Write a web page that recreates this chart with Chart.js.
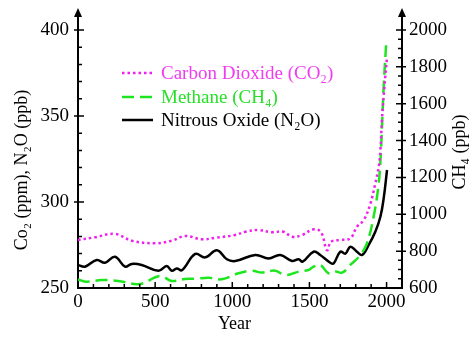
<!DOCTYPE html>
<html>
<head>
<meta charset="utf-8">
<script src="https://cdn.jsdelivr.net/npm/chart.js@4.4.1/dist/chart.umd.min.js"></script>
<style>
  body { margin: 0; background: #fff; }
</style>
</head>
<body>
<canvas id="chart" width="475" height="338"></canvas>
<script>
// values
var co2Years = [0, 110, 240, 348, 500, 608, 694, 803, 889, 1019, 1084, 1170, 1257, 1332, 1387, 1452, 1527, 1575, 1614, 1640, 1700, 1765, 1808, 1852, 1895, 1927, 1949, 1960, 1970, 1986, 2003];
var co2Vals = [277.9, 279.5, 281.4, 277.5, 276, 277.5, 280.2, 278.3, 279.2, 280.8, 282.7, 283.7, 282.4, 282.7, 279.8, 280.8, 284.1, 282.5, 272, 276.9, 277.9, 278.9, 285.6, 289.5, 299, 310.8, 320.5, 330, 347.7, 367, 384.5];

var ch4Years = [0, 50, 154, 260, 402, 532, 608, 694, 760, 846, 932, 1040, 1127, 1190, 1278, 1343, 1430, 1494, 1527, 1570, 1624, 1668, 1711, 1765, 1830, 1873, 1916, 1949, 1964, 1981, 1999];
var ch4Vals = [647, 634, 643, 638, 622, 665, 638, 649, 650, 656, 647, 680, 694, 684, 694, 670, 689, 698, 716, 725, 680, 690, 683, 725, 779, 843, 987, 1168, 1349, 1692, 1946];

var n2oYears = [0, 45, 121, 175, 240, 305, 348, 413, 521, 575, 608, 640, 673, 760, 824, 900, 965, 1019, 1149, 1235, 1311, 1387, 1430, 1456, 1527, 1570, 1635, 1657, 1700, 1733, 1765, 1808, 1841, 1884, 1927, 1960, 1981, 2003];
var n2oVals = [263.4, 262.4, 266.3, 264.7, 268.2, 262.4, 264, 263.4, 260, 262.8, 260, 261.4, 260.3, 269.8, 267.8, 272, 266.7, 265.7, 269.2, 267.2, 269.2, 265.7, 266.7, 265.3, 271.1, 269.2, 264.7, 264.3, 271.1, 270, 274, 271.1, 269.2, 275, 282.7, 291.4, 302, 318.6];

var seriesNames = ['Carbon Dioxide (CO\u2082)', 'Methane (CH\u2084)', 'Nitrous Oxide (N\u2082O)'];
var xLabels = [0, 500, 1000, 1500, 2000];
var leftLabels = [250, 300, 350, 400];
var rightLabels = [600, 800, 1000, 1200, 1400, 1600, 1800, 2000];
var xTitle = 'Year';
var leftTitle = 'Co\u2082 (ppm), N\u2082O (ppb)';
var rightTitle = 'CH\u2084 (ppb)';

var SERIF = '"Liberation Serif", "Times New Roman", serif';

function pts(xs, ys) {
  return xs.map(function(x, i) { return {x: x, y: ys[i]}; });
}

function plain(v) { return String(v); }

// tick marks, arrows, axis titles and the legend
var extras = {
  id: 'extras',
  afterDraw: function(chart) {
    var ctx = chart.ctx;
    var a = chart.chartArea;
    var sx = chart.scales.x, sl = chart.scales.y, sr = chart.scales.y1;
    ctx.save();
    ctx.strokeStyle = '#000';
    ctx.fillStyle = '#000';
    ctx.lineWidth = 1.5;
    ctx.beginPath();
    // x ticks every 100
    for (var v = 100; v <= 2000; v += 100) {
      var px = sx.getPixelForValue(v);
      var big = v % 500 == 0;
      ctx.moveTo(px, a.bottom);
      ctx.lineTo(px, a.bottom - (big ? 6 : 4));
    }
    // left ticks every 10
    for (var v = 260; v <= 400; v += 10) {
      var py = sl.getPixelForValue(v);
      var big = v % 50 == 0;
      ctx.moveTo(a.left - (big ? 4 : 0), py);
      ctx.lineTo(a.left + (big ? 6 : 4), py);
    }
    // right ticks every 50
    for (var v = 650; v <= 2000; v += 50) {
      var py = sr.getPixelForValue(v);
      var big = v % 200 == 0;
      ctx.moveTo(a.right + (big ? 4 : 0), py);
      ctx.lineTo(a.right - (big ? 6 : 4), py);
    }
    ctx.stroke();

    // arrows on both vertical axes
    [a.left, a.right].forEach(function(xx) {
      ctx.lineWidth = 2;
      ctx.beginPath();
      ctx.moveTo(xx, a.top);
      ctx.lineTo(xx, a.top - 16);
      ctx.stroke();
      ctx.beginPath();
      ctx.moveTo(xx, a.top - 22);
      ctx.lineTo(xx - 4, a.top - 13);
      ctx.lineTo(xx + 4, a.top - 13);
      ctx.closePath();
      ctx.fill();
    });

    // axis titles
    ctx.font = '18px ' + SERIF;
    ctx.textAlign = 'center';
    ctx.textBaseline = 'middle';
    ctx.fillText(xTitle, (a.left + 391) / 2, 324);
    ctx.save();
    ctx.translate(22, 170);
    ctx.rotate(-Math.PI / 2);
    ctx.fillText(leftTitle, 0, 0);
    ctx.restore();
    ctx.save();
    ctx.translate(460, 152);
    ctx.rotate(-Math.PI / 2);
    ctx.fillText(rightTitle, 0, 0);
    ctx.restore();

    // legend inside the plot
    ctx.font = '19px ' + SERIF;
    ctx.textAlign = 'left';
    var rows = [73, 97, 120];
    chart.data.datasets.forEach(function(ds, i) {
      ctx.strokeStyle = ds.borderColor;
      ctx.lineWidth = ds.borderWidth;
      ctx.setLineDash(ds.borderDash || []);
      ctx.beginPath();
      ctx.moveTo(122, rows[i]);
      ctx.lineTo(153, rows[i]);
      ctx.stroke();
      ctx.setLineDash([]);
      ctx.fillStyle = ds.textColor;
      ctx.fillText(ds.label, 161, rows[i] + 1);
    });
    ctx.restore();
  }
};

var tickFont = { family: SERIF, size: 19 };

var chart = new Chart('chart', {
  type: 'line',
  data: {
    datasets: [
      {
        label: seriesNames[0],
        data: pts(co2Years, co2Vals),
        yAxisID: 'y',
        borderColor: '#f01ef0',
        textColor: '#f03cf0',
        borderWidth: 2.5,
        borderDash: [2.5, 3],
        tension: 0.4,
        pointRadius: 0
      },
      {
        label: seriesNames[1],
        data: pts(ch4Years, ch4Vals),
        yAxisID: 'y1',
        borderColor: '#1ee61e',
        textColor: '#28e028',
        borderWidth: 2.5,
        borderDash: [12, 6],
        tension: 0.4,
        pointRadius: 0
      },
      {
        label: seriesNames[2],
        data: pts(n2oYears, n2oVals),
        yAxisID: 'y',
        borderColor: '#000',
        textColor: '#000',
        borderWidth: 2.5,
        tension: 0.4,
        pointRadius: 0
      }
    ]
  },
  options: {
    responsive: false,
    animation: false,
    layout: { padding: { top: 30 } },
    plugins: { legend: { display: false }, tooltip: { enabled: false } },
    scales: {
      x: {
        type: 'linear',
        min: 0,
        max: 2100,
        afterBuildTicks: function(s) { s.ticks = xLabels.map(function(v) { return {value: v}; }); },
        afterFit: function(s) { s.height = 50; },
        grid: { display: false, drawTicks: false },
        border: { color: '#000', width: 2 },
        ticks: { color: '#000', font: tickFont, padding: 3, maxRotation: 0, callback: plain }
      },
      y: {
        position: 'left',
        min: 250,
        max: 400,
        afterBuildTicks: function(s) { s.ticks = leftLabels.map(function(v) { return {value: v}; }); },
        afterFit: function(s) { s.width = 78; },
        grid: { display: false, drawTicks: false },
        border: { color: '#000', width: 2 },
        ticks: { color: '#000', font: tickFont, padding: 9, callback: plain }
      },
      y1: {
        position: 'right',
        min: 600,
        max: 2000,
        afterBuildTicks: function(s) { s.ticks = rightLabels.map(function(v) { return {value: v}; }); },
        afterFit: function(s) { s.width = 73; },
        grid: { display: false, drawTicks: false },
        border: { color: '#000', width: 2 },
        ticks: { color: '#000', font: tickFont, padding: 7, callback: plain }
      }
    }
  },
  plugins: [extras]
});
</script>
</body>
</html>
